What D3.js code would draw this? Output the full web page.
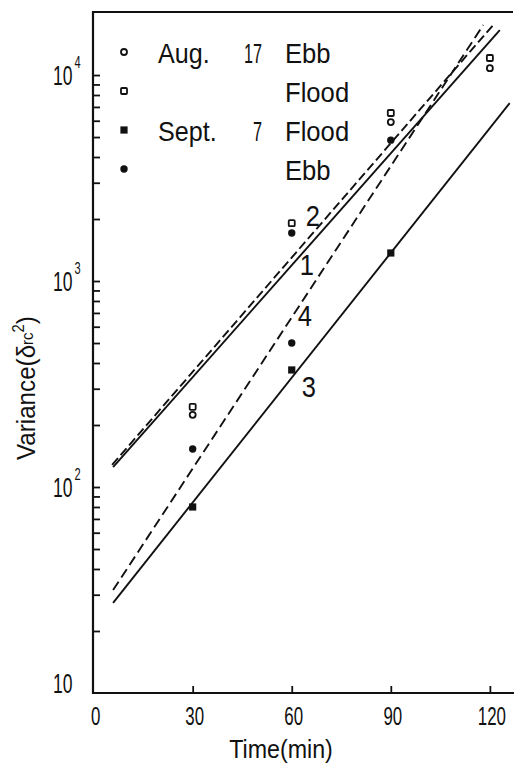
<!DOCTYPE html>
<html>
<head>
<meta charset="utf-8">
<script src="https://cdn.jsdelivr.net/npm/d3@7"></script>
<style>
	body { margin: 0; background: #fff; }
	svg { display: block; }
	text { font-family: 'Liberation Sans', Arial, sans-serif; fill: #111; }
</style>
</head>
<body>
<svg width="515" height="765"></svg>
<script>
// sampling times (min)
const times = [30, 60, 90, 120];

// Aug. 17 (open symbols)
const aug17Flood = [245, 1910, 6540, 12100];
const aug17Ebb = [224, 1710, 5910, 10800];
const aug17EbbMarks = ["open", "solid", "open", "open"];  // the 60 min one is printed solid

// Sept. 7 (solid symbols)
const sept7Times = [30, 60, 90];
const sept7Flood = [80, 370, 1368];
const sept7Ebb = [153, 500, 4830];

// fitted lines: [t, value] at both ends
const line1 = [[5.9, 125], [123, 16500]];
const line2 = [[5.6, 128], [121, 17500]];
const line3 = [[5.9, 27.4], [126, 7310]];
const line4 = [[5.9, 31.6], [118, 17500]];

const lineLabels = [
	{text: "1", t: 64.6, v: 1200},
	{text: "2", t: 66.4, v: 2090},
	{text: "3", t: 65.2, v: 309},
	{text: "4", t: 64.0, v: 684}
];

const xTicks = [0, 30, 60, 90, 120];
const yMajor = [10, 100, 1000, 10000];

const legendRows = [
	{mark: "openCircle", date: "Aug.", day: "17", tide: "Ebb"},
	{mark: "openSquare", date: "", day: "", tide: "Flood"},
	{mark: "solidSquare", date: "Sept.", day: "7", tide: "Flood"},
	{mark: "solidCircle", date: "", day: "", tide: "Ebb"}
];

const svg = d3.select("svg");

const x = d3.scaleLinear().domain([0, 126.7]).range([93.6, 512]);
const y = d3.scaleLog().domain([10, 20230]).range([693, 12]);

// helper for squeezed text (the original lettering is narrow)
function label(g, str, px, py, size, sx, anchor) {
	return g.append("text")
		.attr("transform", `translate(${px},${py}) scale(${sx},1)`)
		.attr("font-size", size)
		.attr("text-anchor", anchor || "start")
		.text(str);
}

// y ticks, pointing inward
const yTickVals = y.ticks().filter(v => v > 10 && v < 20000);
svg.append("g")
	.attr("transform", `translate(${x(0) - 0.6},0)`)
	.call(d3.axisRight(y).tickValues(yTickVals).tickSize(7).tickFormat(""))
	.call(g => g.select(".domain").remove())
	.call(g => g.selectAll("line").attr("stroke", "#111").attr("stroke-width", 1.8));

// x ticks, pointing inward
svg.append("g")
	.attr("transform", `translate(0,${y(10)})`)
	.call(d3.axisTop(x).tickValues(xTicks.slice(1)).tickSize(7).tickFormat(""))
	.call(g => g.select(".domain").remove())
	.call(g => g.selectAll("line").attr("stroke", "#111").attr("stroke-width", 1.8));

// frame: left, top and bottom only
svg.append("path")
	.attr("d", `M513,${y.range()[1]}H${x(0) - 0.6}V${y(10)}H514`)
	.attr("fill", "none")
	.attr("stroke", "#111")
	.attr("stroke-width", 2.2);

// tick labels
const gLab = svg.append("g");
xTicks.forEach(t => label(gLab, String(t), x(t) + 2, 725, 26, 0.65, "middle"));

yMajor.forEach(v => {
	const py = v === 10 ? y(v) : y(v) + 10;
	const txt = label(gLab, "10", 53, py, 27, 0.65);
	if (v > 10)
		txt.append("tspan")
			.attr("dx", 3).attr("dy", -17)
			.attr("font-size", 17)
			.text(String(Math.round(Math.log10(v))));
});

// axis titles
label(gLab, "Time(min)", 281, 758, 25, 0.93, "middle");

const yt = gLab.append("text")
	.attr("transform", "translate(35,460) rotate(-90) scale(0.93,1)")
	.attr("font-size", 26)
	.text("Variance(δ");
yt.append("tspan").attr("font-size", 16).attr("dy", -2).text("rc");
yt.append("tspan").attr("font-size", 16).attr("dy", -9).text("2");
yt.append("tspan").attr("font-size", 26).attr("dy", 11).text(")");

// fitted lines
const gLines = svg.append("g").attr("fill", "none").attr("stroke", "#111").attr("stroke-width", 1.9);
const lineGen = d3.line().x(d => x(d[0])).y(d => y(d[1]));
gLines.append("path").datum(line1).attr("d", lineGen);
gLines.append("path").datum(line2).attr("d", lineGen).attr("stroke-dasharray", "9,4");
gLines.append("path").datum(line3).attr("d", lineGen);
gLines.append("path").datum(line4).attr("d", lineGen).attr("stroke-dasharray", "10,5");

lineLabels.forEach(d => {
	svg.append("text")
		.attr("x", x(d.t)).attr("y", y(d.v))
		.attr("dy", "0.36em")
		.attr("text-anchor", "middle")
		.attr("font-size", 30)
		.attr("transform", `translate(${x(d.t)},0) scale(0.85,1) translate(${-x(d.t)},0)`)
		.text(d.text);
});

// markers
function marker(g, kind, px, py) {
	if (kind === "openCircle")
		g.append("circle").attr("cx", px).attr("cy", py).attr("r", 3)
			.attr("fill", "#fff").attr("stroke", "#111").attr("stroke-width", 1.8);
	else if (kind === "solidCircle")
		g.append("circle").attr("cx", px).attr("cy", py).attr("r", 3.7).attr("fill", "#111");
	else if (kind === "openSquare")
		g.append("rect").attr("x", px - 3).attr("y", py - 3).attr("width", 6).attr("height", 6)
			.attr("rx", 1).attr("fill", "#fff").attr("stroke", "#111").attr("stroke-width", 1.8);
	else
		g.append("rect").attr("x", px - 3.6).attr("y", py - 3.6).attr("width", 7.2).attr("height", 7.2).attr("fill", "#111");
}

const gPts = svg.append("g");
times.forEach((t, i) => {
	marker(gPts, "openSquare", x(t), y(aug17Flood[i]));
	marker(gPts, aug17EbbMarks[i] === "solid" ? "solidCircle" : "openCircle", x(t), y(aug17Ebb[i]));
});
sept7Times.forEach((t, i) => {
	marker(gPts, "solidSquare", x(t), y(sept7Flood[i]));
	marker(gPts, "solidCircle", x(t), y(sept7Ebb[i]));
});

// legend
const gLeg = svg.append("g");
legendRows.forEach((r, i) => {
	const base = 63 + i * 39;
	marker(gLeg, r.mark, 124, base - 11);
	if (r.date) label(gLeg, r.date, 158, base, 27, 0.93);
	if (r.day) label(gLeg, r.day, 262, base, 27, 0.6, "end");
	label(gLeg, r.tide, 285, base, 27, 0.95);
});
</script>
</body>
</html>
